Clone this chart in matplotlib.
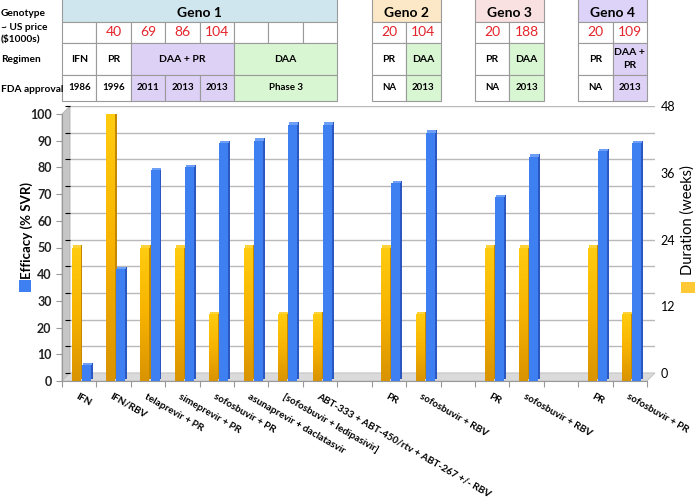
import numpy as np
import matplotlib.pyplot as plt
from matplotlib.patches import Rectangle, Polygon
from matplotlib.colors import LinearSegmentedColormap

# ---- data ----
categories = ['IFN', 'IFN/RBV', 'telaprevir + PR', 'simeprevir + PR', 'sofosbuvir + PR',
              'asunaprevir + daclatasvir', '[sofosbuvir + ledipasivir]',
              'ABT-333 + ABT-450/rtv + ABT-267 +/- RBV', '',
              'PR', 'sofosbuvir + RBV', '',
              'PR', 'sofosbuvir + RBV', '',
              'PR', 'sofosbuvir + PR']
efficacy = [6, 42, 79, 80, 89, 90, 96, 96, np.nan, 74, 93, np.nan, 69, 84, np.nan, 86, 89]
duration = [24, 48, 24, 24, 12, 24, 12, 12, np.nan, 24, 12, np.nan, 24, 24, np.nan, 24, 12]
svr_ticks = list(range(0, 101, 10))
week_ticks = [0, 12, 24, 36, 48]

# table on top
row_labels = ['Genotype', '~ US price\n($1000s)', 'Regimen', 'FDA approval']
genotypes = ['Geno 1', 'Geno 2', 'Geno 3', 'Geno 4']
geno_cols = [(0, 8), (9, 11), (12, 14), (15, 17)]
geno_colors = ['#cfe6ee', '#fce8c6', '#f9e0e1', '#ddd2f7']
prices = ['', '40', '69', '86', '104', '', '', '', None,
          '20', '104', None, '20', '188', None, '20', '109']
regimens = [(0, 1, 'IFN', 'w'), (1, 2, 'PR', 'w'), (2, 5, 'DAA + PR', 'p'), (5, 8, 'DAA', 'g'),
            (9, 10, 'PR', 'w'), (10, 11, 'DAA', 'g'),
            (12, 13, 'PR', 'w'), (13, 14, 'DAA', 'g'),
            (15, 16, 'PR', 'w'), (16, 17, 'DAA +\nPR', 'p')]
approvals = [(0, 1, '1986', 'w'), (1, 2, '1996', 'w'), (2, 3, '2011', 'p'), (3, 4, '2013', 'p'),
             (4, 5, '2013', 'p'), (5, 8, 'Phase 3', 'g'),
             (9, 10, 'NA', 'w'), (10, 11, '2013', 'g'),
             (12, 13, 'NA', 'w'), (13, 14, '2013', 'g'),
             (15, 16, 'NA', 'w'), (16, 17, '2013', 'p')]
fills = {'w': 'white', 'p': '#ddd1f6', 'g': '#d9f6d3'}

plt.rcParams['font.family'] = ['Lato', 'DejaVu Sans']

W, H = 700, 503
fig = plt.figure(figsize=(7, 5.03), dpi=100)


def box(l, t, r, b):
    return [l / W, 1 - b / H, (r - l) / W, (b - t) / H]


ax_back = fig.add_axes(box(70, 106, 655, 373))
ax = fig.add_axes(box(62, 114, 647, 381))
ax2 = ax.twinx()
ax_tab = fig.add_axes(box(62, 0, 647, 101))

# back wall with grid lines
ax_back.patch.set_visible(False)
ax_back.set_ylim(0, 100)
ax_back.set_xlim(0, 1)
ax_back.set_yticks(svr_ticks)
ax_back.yaxis.grid(True, color='#b9b9b9', lw=1)
ax_back.tick_params(left=False, labelleft=False, bottom=False, labelbottom=False)
for s in ax_back.spines.values():
    s.set_visible(False)
ax_back_r = ax_back.twinx()
ax_back_r.set_ylim(0, 48)
ax_back_r.set_yticks(week_ticks)
ax_back_r.tick_params(length=0, pad=4, labelsize=9)
for s in ax_back_r.spines.values():
    s.set_visible(False)

# left wall and floor
pf = ax.get_position()
pb = ax_back.get_position()
fig.add_artist(Polygon([(pf.x0, pf.y0), (pb.x0, pb.y0), (pb.x0, pb.y1), (pf.x0, pf.y1)],
                       transform=fig.transFigure, fc='#c6c6c6', ec='#b0b0b0', lw=0.6, zorder=-1))
fig.add_artist(Polygon([(pf.x0, pf.y0), (pf.x1, pf.y0), (pb.x1, pb.y0), (pb.x0, pb.y0)],
                       transform=fig.transFigure, fc='#dadada', ec='#c0c0c0', lw=0.6, zorder=-1))

x = np.arange(len(categories))
dy_w = 0.4   # 3d depth in weeks
dy_p = dy_w * 100 / 48

# orange (duration) bars
ax2.bar(x + 0.56, duration, width=0.06, bottom=dy_w, color='#c48700', zorder=2)
front_o = ax2.bar(x + 0.405, duration, width=0.25, color='#f5b400', zorder=3)
ax2.bar(x + 0.435, dy_w, width=0.25, bottom=duration, color='#ffd23a', zorder=3)
cmap_o = LinearSegmentedColormap.from_list('o', ['#d99300', '#f7b300', '#ffcc10'])
grad = np.linspace(0, 1, 256).reshape(-1, 1)
for r in front_o:
    h = r.get_height()
    if np.isfinite(h) and h > 0:
        x0 = r.get_x()
        im = ax2.imshow(grad, cmap=cmap_o, extent=(x0, x0 + r.get_width(), 0, h),
                        aspect='auto', origin='lower', zorder=3)
        im.set_clip_path(r)

# blue (efficacy) bars
ax.bar(x + 0.86, efficacy, width=0.06, bottom=dy_p, color='#2a57c0', zorder=2)
ax.bar(x + 0.705, efficacy, width=0.26, color='#3e7ff2', zorder=3)
ax.bar(x + 0.735, dy_p, width=0.26, bottom=efficacy, color='#6d9ff6', zorder=3)

ax2.set_ylim(0, 48)
ax2.axis('off')
ax.set_zorder(ax2.get_zorder() + 1)
ax.patch.set_visible(False)

ax.set_xlim(0, len(categories))
ax.set_ylim(0, 100)
ax.set_yticks(svr_ticks)
ax.set_xticks(range(len(categories) + 1))
ax.set_xticklabels([])
ax.tick_params(colors='#999999', length=4, labelcolor='#222222', labelsize=9)
for lab in ax.get_yticklabels():
    lab.set_fontweight('bold')
ax.spines['top'].set_visible(False)
ax.spines['right'].set_visible(False)
ax.spines['left'].set_color('#999999')
ax.spines['bottom'].set_color('#999999')

for i, lab in enumerate(categories):
    if lab:
        ax.text(i + 0.42, -0.055, lab, transform=ax.get_xaxis_transform(), rotation=-30,
                ha='left', va='center', rotation_mode='anchor', fontsize=7.2, fontweight='bold')

# table
ax_tab.set_xlim(0, len(categories))
ax_tab.set_ylim(101, 0)
ax_tab.axis('off')
edges = [-5, 22, 43, 75, 101]
ec = '#9a9a9a'


def cell(a, b, r, fc, text, **kw):
    ax_tab.add_patch(Rectangle((a, edges[r]), b - a, edges[r + 1] - edges[r],
                               fc=fc, ec=ec, lw=0.8, clip_on=False))
    yc = (edges[r] + edges[r + 1]) / 2 if r else 13
    ax_tab.text((a + b) / 2, yc, text, ha='center', va='center', **kw)


for g, (a, b), c in zip(genotypes, geno_cols, geno_colors):
    cell(a, b, 0, c, g, fontsize=10, fontweight='bold')
for i, p in enumerate(prices):
    if p is not None:
        cell(i, i + 1, 1, 'white', p, fontsize=10, color='#e3242b')
for a, b, t, f in regimens:
    cell(a, b, 2, fills[f], t, fontsize=7.5, fontweight='bold', linespacing=1.5)
for a, b, t, f in approvals:
    cell(a, b, 3, fills[f], t, fontsize=7, fontweight='bold')

for lab, yp in zip(row_labels, [13, 33, 60, 89]):
    fig.text(1 / W, 1 - yp / H, lab, ha='left', va='center', fontsize=7.3, fontweight='bold',
             linespacing=1.3)

# axis titles and colour keys
fig.text(27 / W, 1 - 230 / H, 'Efficacy (% SVR)', rotation=90, ha='center', va='center',
         fontsize=9.5, fontweight='bold')
fig.text(688 / W, 1 - 220 / H, 'Duration (weeks)', rotation=90, ha='center', va='center',
         fontsize=10.5)
fig.add_artist(Rectangle((19 / W, 1 - 292 / H), 12 / W, 12 / H, transform=fig.transFigure,
                         fc='#3e7ff2', ec='none'))
fig.add_artist(Rectangle((681 / W, 1 - 293 / H), 14 / W, 11 / H, transform=fig.transFigure,
                         fc='#ffc935', ec='none'))

fig.savefig('out.png', dpi=100)
